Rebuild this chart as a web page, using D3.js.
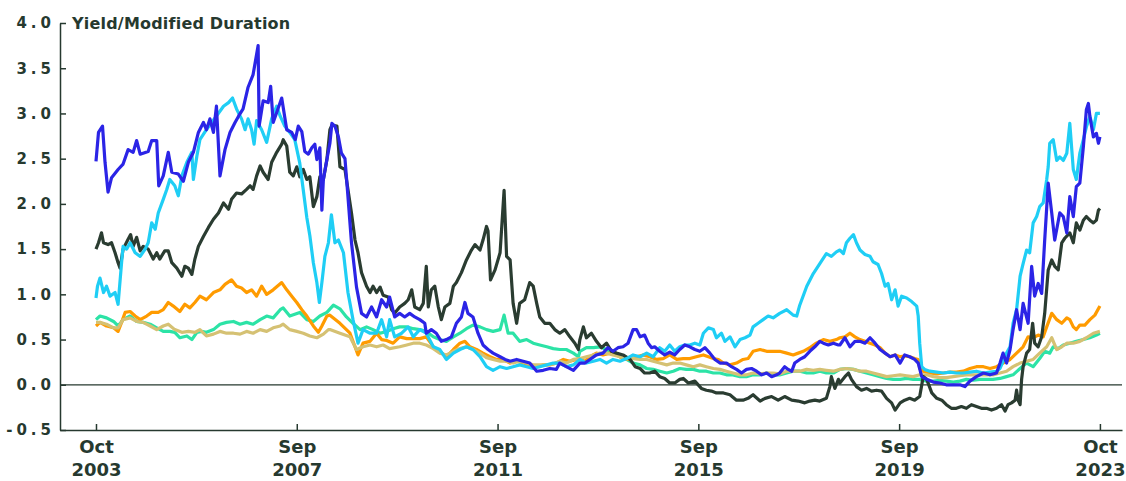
<!DOCTYPE html>
<html>
  <head>
    <meta charset="utf-8">
    <style>
      body { margin: 0; background: #fff; }
      svg text { font-family: "DejaVu Sans", sans-serif; font-weight: 700; fill: #26392f; }
    </style>
  </head>
  <body>
    <svg width="1126" height="481"></svg>
    <script src="https://d3js.org/d3.v7.min.js"></script>
    <script>
    // values, [decimal year, value]
    var blueSeries = [[2003.75,2.47],[2003.80,2.79],[2003.88,2.86],[2003.93,2.46],[2003.99,2.13],[2004.06,2.29],[2004.19,2.38],[2004.29,2.44],[2004.39,2.60],[2004.49,2.57],[2004.56,2.70],[2004.63,2.55],[2004.79,2.58],[2004.86,2.70],[2004.96,2.70],[2005.00,2.20],[2005.09,2.31],[2005.19,2.57],[2005.26,2.35],[2005.39,2.33],[2005.49,2.25],[2005.59,2.46],[2005.69,2.57],[2005.79,2.79],[2005.89,2.90],[2005.95,2.82],[2006.02,2.94],[2006.09,2.79],[2006.15,3.08],[2006.22,2.31],[2006.32,2.60],[2006.42,2.79],[2006.52,2.90],[2006.59,2.97],[2006.68,3.05],[2006.78,3.29],[2006.88,3.43],[2006.98,3.75],[2007.00,2.86],[2007.08,3.14],[2007.18,3.12],[2007.23,3.30],[2007.28,2.90],[2007.35,3.01],[2007.45,3.17],[2007.55,2.82],[2007.65,2.79],[2007.72,2.71],[2007.78,2.86],[2007.85,2.80],[2007.91,2.58],[2007.98,2.55],[2008.05,2.62],[2008.11,2.66],[2008.15,2.49],[2008.21,2.62],[2008.25,1.93],[2008.28,2.27],[2008.35,2.49],[2008.41,2.67],[2008.45,2.89],[2008.51,2.86],[2008.58,2.74],[2008.64,2.56],[2008.71,2.50],[2008.76,2.15],[2008.84,1.57],[2008.94,1.08],[2009.04,0.79],[2009.14,0.75],[2009.24,0.86],[2009.34,0.75],[2009.44,0.94],[2009.54,0.86],[2009.60,0.97],[2009.70,0.75],[2009.80,0.79],[2009.90,0.75],[2010.00,0.79],[2010.10,0.75],[2010.20,0.72],[2010.30,0.68],[2010.33,0.57],[2010.43,0.61],[2010.53,0.57],[2010.63,0.48],[2010.73,0.50],[2010.83,0.53],[2010.93,0.68],[2011.03,0.75],[2011.10,0.91],[2011.16,0.79],[2011.26,0.75],[2011.36,0.57],[2011.46,0.44],[2011.56,0.39],[2011.66,0.35],[2011.80,0.31],[2011.90,0.28],[2012.00,0.26],[2012.13,0.28],[2012.26,0.26],[2012.39,0.24],[2012.53,0.15],[2012.66,0.16],[2012.79,0.18],[2012.92,0.17],[2012.99,0.24],[2013.12,0.20],[2013.26,0.16],[2013.39,0.24],[2013.49,0.24],[2013.59,0.28],[2013.72,0.33],[2013.85,0.35],[2013.95,0.41],[2014.05,0.37],[2014.15,0.41],[2014.25,0.42],[2014.35,0.46],[2014.45,0.61],[2014.52,0.61],[2014.59,0.53],[2014.68,0.55],[2014.75,0.46],[2014.82,0.41],[2014.88,0.42],[2014.98,0.37],[2015.08,0.33],[2015.18,0.36],[2015.28,0.33],[2015.38,0.39],[2015.48,0.44],[2015.58,0.42],[2015.68,0.39],[2015.78,0.37],[2015.88,0.41],[2015.98,0.35],[2016.08,0.28],[2016.18,0.24],[2016.31,0.24],[2016.41,0.20],[2016.51,0.17],[2016.61,0.13],[2016.71,0.17],[2016.81,0.18],[2016.91,0.15],[2017.01,0.11],[2017.11,0.13],[2017.21,0.09],[2017.31,0.11],[2017.37,0.13],[2017.47,0.20],[2017.54,0.17],[2017.61,0.15],[2017.67,0.24],[2017.77,0.28],[2017.87,0.31],[2017.97,0.37],[2018.07,0.42],[2018.17,0.48],[2018.24,0.46],[2018.34,0.44],[2018.44,0.46],[2018.54,0.44],[2018.57,0.44],[2018.67,0.52],[2018.77,0.42],[2018.87,0.48],[2018.97,0.48],[2019.07,0.46],[2019.17,0.52],[2019.27,0.46],[2019.37,0.39],[2019.47,0.35],[2019.57,0.31],[2019.67,0.33],[2019.77,0.24],[2019.86,0.33],[2019.96,0.31],[2020.06,0.28],[2020.13,0.24],[2020.20,0.09],[2020.30,0.06],[2020.43,0.03],[2020.56,0.02],[2020.69,0.00],[2020.83,0.00],[2020.96,0.00],[2021.06,-0.02],[2021.16,0.04],[2021.29,0.09],[2021.43,0.13],[2021.56,0.11],[2021.69,0.13],[2021.76,0.24],[2021.82,0.35],[2021.89,0.24],[2021.96,0.39],[2022.02,0.61],[2022.09,0.83],[2022.16,0.61],[2022.22,0.90],[2022.32,0.68],[2022.39,1.31],[2022.45,0.98],[2022.52,1.12],[2022.59,1.01],[2022.65,1.60],[2022.72,2.23],[2022.79,1.90],[2022.85,1.60],[2022.95,1.90],[2023.02,1.86],[2023.09,1.68],[2023.15,2.08],[2023.22,1.86],[2023.28,2.19],[2023.35,2.23],[2023.42,2.63],[2023.48,3.04],[2023.52,3.11],[2023.55,2.97],[2023.62,2.74],[2023.68,2.78],[2023.72,2.67],[2023.75,2.74]];

    var cyanSeries = [[2003.75,0.96],[2003.78,1.09],[2003.83,1.18],[2003.90,1.02],[2003.96,1.09],[2004.03,0.98],[2004.13,1.02],[2004.19,0.89],[2004.26,1.35],[2004.29,1.53],[2004.36,1.50],[2004.43,1.57],[2004.53,1.46],[2004.63,1.42],[2004.73,1.50],[2004.79,1.57],[2004.86,1.79],[2004.93,1.72],[2004.99,1.90],[2005.09,2.05],[2005.16,2.16],[2005.22,2.27],[2005.32,2.20],[2005.39,2.09],[2005.46,2.31],[2005.56,2.46],[2005.66,2.57],[2005.69,2.27],[2005.76,2.53],[2005.82,2.71],[2005.95,2.82],[2006.05,2.90],[2006.15,2.97],[2006.29,3.08],[2006.39,3.12],[2006.47,3.17],[2006.55,3.05],[2006.65,2.94],[2006.72,2.82],[2006.78,2.94],[2006.85,2.82],[2006.90,2.66],[2006.95,2.92],[2007.05,2.82],[2007.15,2.68],[2007.25,2.94],[2007.35,3.08],[2007.42,2.97],[2007.51,2.86],[2007.61,2.79],[2007.71,2.71],[2007.81,2.45],[2007.88,2.15],[2007.95,1.85],[2008.01,1.65],[2008.08,1.35],[2008.15,1.13],[2008.20,0.91],[2008.25,1.13],[2008.31,1.42],[2008.38,1.57],[2008.44,1.88],[2008.51,1.57],[2008.58,1.60],[2008.68,1.46],[2008.77,1.02],[2008.87,0.72],[2008.97,0.46],[2009.07,0.61],[2009.21,0.57],[2009.34,0.57],[2009.44,0.72],[2009.54,0.53],[2009.60,0.72],[2009.70,0.53],[2009.84,0.57],[2009.97,0.64],[2010.07,0.53],[2010.20,0.61],[2010.33,0.57],[2010.47,0.42],[2010.60,0.39],[2010.73,0.28],[2010.87,0.35],[2011.00,0.39],[2011.13,0.42],[2011.26,0.39],[2011.40,0.31],[2011.53,0.20],[2011.66,0.16],[2011.80,0.20],[2011.93,0.18],[2012.06,0.20],[2012.19,0.22],[2012.33,0.20],[2012.46,0.18],[2012.59,0.20],[2012.73,0.22],[2012.86,0.24],[2012.99,0.24],[2013.12,0.20],[2013.26,0.22],[2013.39,0.28],[2013.52,0.24],[2013.66,0.26],[2013.79,0.28],[2013.92,0.24],[2014.05,0.28],[2014.19,0.26],[2014.32,0.29],[2014.45,0.33],[2014.59,0.31],[2014.72,0.35],[2014.85,0.31],[2014.98,0.41],[2015.08,0.37],[2015.18,0.44],[2015.28,0.37],[2015.38,0.42],[2015.48,0.44],[2015.58,0.44],[2015.68,0.46],[2015.78,0.44],[2015.85,0.57],[2015.95,0.63],[2016.05,0.61],[2016.11,0.52],[2016.21,0.57],[2016.28,0.48],[2016.38,0.53],[2016.48,0.42],[2016.58,0.50],[2016.68,0.52],[2016.78,0.55],[2016.84,0.64],[2016.94,0.68],[2017.04,0.72],[2017.14,0.76],[2017.24,0.74],[2017.37,0.79],[2017.51,0.83],[2017.64,0.77],[2017.71,0.76],[2017.77,0.88],[2017.91,1.09],[2018.04,1.23],[2018.17,1.34],[2018.30,1.45],[2018.40,1.42],[2018.50,1.47],[2018.57,1.49],[2018.64,1.45],[2018.70,1.57],[2018.77,1.62],[2018.84,1.66],[2018.90,1.57],[2018.97,1.49],[2019.07,1.44],[2019.17,1.42],[2019.23,1.36],[2019.33,1.33],[2019.40,1.23],[2019.47,1.09],[2019.53,1.12],[2019.60,0.94],[2019.67,1.05],[2019.73,0.87],[2019.80,0.98],[2019.90,0.96],[2020.00,0.92],[2020.10,0.87],[2020.13,0.76],[2020.16,0.46],[2020.20,0.20],[2020.26,0.17],[2020.36,0.15],[2020.50,0.14],[2020.63,0.13],[2020.76,0.14],[2020.89,0.13],[2021.03,0.13],[2021.16,0.14],[2021.29,0.15],[2021.43,0.13],[2021.56,0.14],[2021.69,0.15],[2021.76,0.18],[2021.82,0.26],[2021.89,0.35],[2021.96,0.42],[2022.02,0.68],[2022.09,0.83],[2022.16,1.20],[2022.22,1.34],[2022.29,1.49],[2022.35,1.46],[2022.42,1.79],[2022.49,1.86],[2022.55,1.97],[2022.62,2.01],[2022.69,2.27],[2022.72,2.41],[2022.75,2.67],[2022.82,2.71],[2022.89,2.48],[2022.95,2.52],[2023.02,2.48],[2023.09,2.56],[2023.15,2.89],[2023.22,2.38],[2023.28,2.27],[2023.35,2.56],[2023.42,2.71],[2023.48,2.85],[2023.55,2.97],[2023.62,2.82],[2023.68,3.00],[2023.75,3.00]];

    var darkSeries = [[2003.75,1.50],[2003.80,1.57],[2003.86,1.68],[2003.90,1.57],[2003.99,1.55],[2004.06,1.57],[2004.13,1.46],[2004.19,1.35],[2004.23,1.29],[2004.29,1.50],[2004.39,1.61],[2004.44,1.66],[2004.49,1.53],[2004.56,1.63],[2004.63,1.48],[2004.69,1.53],[2004.79,1.50],[2004.89,1.39],[2004.96,1.46],[2005.02,1.39],[2005.12,1.48],[2005.19,1.48],[2005.26,1.35],[2005.36,1.29],[2005.46,1.20],[2005.52,1.31],[2005.59,1.29],[2005.66,1.22],[2005.72,1.39],[2005.79,1.53],[2005.89,1.64],[2005.99,1.74],[2006.09,1.83],[2006.19,1.90],[2006.29,2.01],[2006.39,1.94],[2006.45,2.05],[2006.55,2.12],[2006.65,2.11],[2006.75,2.16],[2006.82,2.20],[2006.88,2.16],[2006.95,2.31],[2007.02,2.42],[2007.08,2.35],[2007.18,2.27],[2007.25,2.46],[2007.35,2.57],[2007.45,2.66],[2007.48,2.71],[2007.55,2.64],[2007.61,2.35],[2007.68,2.31],[2007.75,2.41],[2007.81,2.30],[2007.88,2.38],[2007.95,2.27],[2008.01,2.30],[2008.08,1.97],[2008.15,2.08],[2008.21,2.30],[2008.28,2.27],[2008.35,2.49],[2008.41,2.82],[2008.45,2.87],[2008.55,2.86],[2008.61,2.41],[2008.71,2.38],[2008.78,2.12],[2008.84,1.90],[2008.91,1.60],[2008.97,1.46],[2009.04,1.24],[2009.14,1.09],[2009.21,1.02],[2009.27,1.09],[2009.34,1.02],[2009.41,1.08],[2009.47,0.99],[2009.57,0.97],[2009.64,0.83],[2009.70,0.79],[2009.80,0.86],[2009.90,0.90],[2009.97,0.94],[2010.04,1.05],[2010.10,0.86],[2010.20,0.83],[2010.27,0.90],[2010.33,1.31],[2010.37,0.86],[2010.43,1.05],[2010.50,1.09],[2010.57,0.86],[2010.63,0.72],[2010.70,0.86],[2010.80,0.90],[2010.87,1.09],[2010.93,1.13],[2011.03,1.24],[2011.13,1.38],[2011.23,1.49],[2011.30,1.55],[2011.40,1.49],[2011.46,1.60],[2011.53,1.75],[2011.56,1.70],[2011.61,1.16],[2011.70,1.27],[2011.80,1.46],[2011.88,2.15],[2011.93,1.42],[2012.00,1.38],[2012.06,0.90],[2012.13,0.68],[2012.19,0.90],[2012.29,0.94],[2012.39,1.13],[2012.46,1.09],[2012.53,0.90],[2012.59,0.75],[2012.69,0.68],[2012.79,0.68],[2012.89,0.61],[2012.99,0.57],[2013.09,0.61],[2013.19,0.53],[2013.29,0.46],[2013.36,0.39],[2013.39,0.50],[2013.46,0.64],[2013.52,0.52],[2013.62,0.57],[2013.72,0.48],[2013.82,0.41],[2013.92,0.46],[2014.02,0.37],[2014.12,0.35],[2014.25,0.33],[2014.39,0.28],[2014.49,0.20],[2014.59,0.18],[2014.68,0.13],[2014.78,0.13],[2014.88,0.15],[2014.98,0.09],[2015.08,0.07],[2015.18,0.02],[2015.28,0.02],[2015.38,0.06],[2015.45,0.07],[2015.55,0.02],[2015.68,0.04],[2015.81,-0.04],[2015.91,-0.06],[2016.01,-0.07],[2016.11,-0.09],[2016.25,-0.09],[2016.38,-0.11],[2016.51,-0.17],[2016.64,-0.17],[2016.74,-0.15],[2016.84,-0.11],[2016.98,-0.18],[2017.08,-0.15],[2017.21,-0.13],[2017.34,-0.17],[2017.47,-0.13],[2017.61,-0.17],[2017.74,-0.18],[2017.87,-0.20],[2017.97,-0.18],[2018.07,-0.17],[2018.17,-0.18],[2018.30,-0.15],[2018.37,-0.02],[2018.40,0.09],[2018.47,-0.04],[2018.54,0.06],[2018.57,0.02],[2018.67,0.09],[2018.74,0.13],[2018.80,0.06],[2018.90,-0.02],[2019.00,-0.06],[2019.10,-0.04],[2019.20,-0.07],[2019.30,-0.06],[2019.40,-0.07],[2019.50,-0.15],[2019.60,-0.20],[2019.67,-0.28],[2019.77,-0.20],[2019.86,-0.17],[2019.96,-0.15],[2020.06,-0.17],[2020.16,-0.13],[2020.23,0.09],[2020.30,0.06],[2020.40,-0.09],[2020.50,-0.15],[2020.60,-0.17],[2020.69,-0.22],[2020.79,-0.26],[2020.89,-0.26],[2020.99,-0.24],[2021.09,-0.26],[2021.19,-0.22],[2021.29,-0.24],[2021.39,-0.26],[2021.49,-0.26],[2021.59,-0.28],[2021.69,-0.26],[2021.79,-0.22],[2021.86,-0.29],[2021.92,-0.22],[2021.99,-0.20],[2022.06,-0.17],[2022.09,-0.06],[2022.12,-0.17],[2022.16,-0.22],[2022.19,0.06],[2022.22,0.20],[2022.29,0.35],[2022.35,0.39],[2022.41,0.68],[2022.45,0.46],[2022.52,0.42],[2022.59,0.53],[2022.65,0.79],[2022.72,1.27],[2022.79,1.38],[2022.85,1.31],[2022.92,1.27],[2022.99,1.57],[2023.05,1.62],[2023.15,1.68],[2023.22,1.57],[2023.28,1.79],[2023.35,1.71],[2023.42,1.82],[2023.48,1.86],[2023.55,1.82],[2023.62,1.79],[2023.68,1.82],[2023.72,1.93],[2023.75,1.95]];

    var orangeSeries = [[2003.75,0.65],[2003.83,0.69],[2003.96,0.65],[2004.10,0.63],[2004.19,0.59],[2004.26,0.69],[2004.33,0.80],[2004.43,0.81],[2004.53,0.76],[2004.63,0.72],[2004.76,0.76],[2004.86,0.80],[2004.99,0.80],[2005.09,0.83],[2005.19,0.91],[2005.29,0.87],[2005.42,0.81],[2005.52,0.89],[2005.62,0.85],[2005.72,0.91],[2005.82,0.98],[2005.95,0.94],[2006.09,1.02],[2006.22,1.05],[2006.32,1.11],[2006.45,1.16],[2006.55,1.09],[2006.65,1.07],[2006.75,1.02],[2006.85,1.05],[2006.95,0.98],[2007.05,1.09],[2007.15,1.00],[2007.28,1.05],[2007.45,1.13],[2007.55,1.05],[2007.65,0.98],[2007.75,0.91],[2007.85,0.83],[2007.95,0.76],[2008.08,0.65],[2008.18,0.58],[2008.25,0.65],[2008.35,0.76],[2008.41,0.77],[2008.61,0.68],[2008.81,0.57],[2008.91,0.42],[2008.97,0.33],[2009.07,0.46],[2009.21,0.48],[2009.34,0.57],[2009.44,0.50],[2009.54,0.49],[2009.67,0.46],[2009.80,0.53],[2009.94,0.51],[2010.07,0.51],[2010.20,0.51],[2010.33,0.53],[2010.47,0.42],[2010.60,0.37],[2010.73,0.31],[2010.87,0.39],[2011.00,0.46],[2011.10,0.48],[2011.20,0.42],[2011.33,0.39],[2011.46,0.35],[2011.60,0.31],[2011.73,0.28],[2011.86,0.28],[2012.00,0.24],[2012.13,0.26],[2012.26,0.24],[2012.39,0.22],[2012.53,0.20],[2012.66,0.22],[2012.79,0.22],[2012.92,0.24],[2013.06,0.28],[2013.19,0.26],[2013.32,0.28],[2013.39,0.28],[2013.49,0.26],[2013.59,0.31],[2013.72,0.35],[2013.85,0.33],[2013.99,0.35],[2014.12,0.33],[2014.25,0.29],[2014.39,0.28],[2014.52,0.31],[2014.65,0.33],[2014.78,0.31],[2014.92,0.28],[2015.05,0.29],[2015.18,0.33],[2015.32,0.28],[2015.45,0.29],[2015.58,0.29],[2015.71,0.31],[2015.85,0.33],[2015.95,0.31],[2016.05,0.29],[2016.15,0.28],[2016.25,0.24],[2016.38,0.22],[2016.51,0.24],[2016.64,0.28],[2016.74,0.29],[2016.84,0.37],[2016.98,0.39],[2017.11,0.37],[2017.24,0.37],[2017.37,0.37],[2017.51,0.35],[2017.64,0.33],[2017.74,0.35],[2017.84,0.37],[2017.97,0.41],[2018.10,0.46],[2018.24,0.50],[2018.37,0.48],[2018.50,0.50],[2018.57,0.52],[2018.67,0.53],[2018.77,0.57],[2018.87,0.53],[2018.97,0.50],[2019.07,0.48],[2019.17,0.46],[2019.27,0.44],[2019.37,0.41],[2019.47,0.35],[2019.57,0.31],[2019.67,0.33],[2019.77,0.31],[2019.86,0.32],[2019.96,0.31],[2020.06,0.29],[2020.13,0.28],[2020.16,0.18],[2020.23,0.15],[2020.36,0.13],[2020.50,0.12],[2020.63,0.13],[2020.76,0.14],[2020.89,0.14],[2021.03,0.15],[2021.16,0.18],[2021.29,0.20],[2021.43,0.20],[2021.56,0.18],[2021.69,0.20],[2021.82,0.24],[2021.96,0.28],[2022.09,0.35],[2022.22,0.42],[2022.32,0.53],[2022.42,0.52],[2022.52,0.55],[2022.62,0.53],[2022.69,0.64],[2022.79,0.79],[2022.89,0.72],[2022.99,0.68],[2023.09,0.74],[2023.15,0.72],[2023.22,0.64],[2023.28,0.61],[2023.35,0.66],[2023.45,0.66],[2023.55,0.72],[2023.65,0.77],[2023.75,0.87]];

    var tanSeries = [[2003.75,0.69],[2003.83,0.69],[2003.96,0.67],[2004.10,0.63],[2004.19,0.63],[2004.29,0.72],[2004.43,0.74],[2004.56,0.70],[2004.69,0.69],[2004.83,0.65],[2004.96,0.61],[2005.09,0.65],[2005.19,0.67],[2005.32,0.61],[2005.46,0.58],[2005.59,0.59],[2005.72,0.58],[2005.82,0.61],[2005.95,0.54],[2006.09,0.56],[2006.22,0.59],[2006.35,0.57],[2006.49,0.57],[2006.62,0.56],[2006.75,0.59],[2006.88,0.57],[2007.02,0.61],[2007.15,0.59],[2007.28,0.63],[2007.42,0.65],[2007.48,0.67],[2007.61,0.61],[2007.75,0.59],[2007.88,0.57],[2008.01,0.54],[2008.15,0.52],[2008.28,0.56],[2008.38,0.61],[2008.41,0.61],[2008.61,0.57],[2008.81,0.53],[2008.94,0.39],[2009.07,0.42],[2009.21,0.44],[2009.34,0.42],[2009.47,0.44],[2009.60,0.40],[2009.80,0.42],[2009.94,0.44],[2010.07,0.46],[2010.20,0.46],[2010.33,0.44],[2010.47,0.40],[2010.60,0.35],[2010.73,0.33],[2010.87,0.37],[2011.00,0.40],[2011.13,0.42],[2011.26,0.39],[2011.40,0.35],[2011.53,0.30],[2011.66,0.28],[2011.80,0.26],[2011.93,0.26],[2012.06,0.24],[2012.19,0.26],[2012.33,0.24],[2012.46,0.22],[2012.59,0.22],[2012.73,0.22],[2012.86,0.23],[2012.99,0.26],[2013.12,0.24],[2013.26,0.28],[2013.39,0.29],[2013.52,0.31],[2013.66,0.33],[2013.79,0.35],[2013.92,0.35],[2014.05,0.33],[2014.19,0.31],[2014.32,0.29],[2014.45,0.29],[2014.59,0.28],[2014.72,0.28],[2014.85,0.26],[2014.98,0.24],[2015.12,0.22],[2015.25,0.24],[2015.38,0.24],[2015.51,0.22],[2015.65,0.20],[2015.78,0.22],[2015.91,0.20],[2016.05,0.18],[2016.18,0.17],[2016.31,0.15],[2016.44,0.13],[2016.58,0.11],[2016.71,0.11],[2016.84,0.13],[2016.98,0.12],[2017.11,0.13],[2017.24,0.13],[2017.37,0.12],[2017.51,0.15],[2017.64,0.15],[2017.77,0.15],[2017.91,0.17],[2018.04,0.16],[2018.17,0.17],[2018.30,0.16],[2018.44,0.15],[2018.57,0.17],[2018.70,0.18],[2018.84,0.17],[2018.97,0.15],[2019.10,0.15],[2019.23,0.13],[2019.37,0.11],[2019.50,0.09],[2019.63,0.10],[2019.77,0.11],[2019.90,0.10],[2020.03,0.09],[2020.16,0.11],[2020.30,0.11],[2020.43,0.09],[2020.56,0.08],[2020.69,0.08],[2020.83,0.09],[2020.96,0.10],[2021.09,0.11],[2021.23,0.11],[2021.36,0.11],[2021.49,0.11],[2021.62,0.11],[2021.76,0.13],[2021.89,0.15],[2022.02,0.20],[2022.16,0.24],[2022.29,0.26],[2022.42,0.28],[2022.55,0.35],[2022.69,0.42],[2022.79,0.52],[2022.89,0.39],[2022.99,0.42],[2023.09,0.46],[2023.22,0.46],[2023.35,0.48],[2023.48,0.52],[2023.62,0.57],[2023.75,0.59]];

    var mintSeries = [[2003.75,0.72],[2003.83,0.76],[2003.96,0.74],[2004.10,0.70],[2004.19,0.65],[2004.29,0.72],[2004.43,0.76],[2004.56,0.70],[2004.69,0.69],[2004.83,0.67],[2004.96,0.63],[2005.09,0.59],[2005.22,0.59],[2005.32,0.58],[2005.42,0.52],[2005.56,0.54],[2005.66,0.50],[2005.76,0.58],[2005.85,0.59],[2005.95,0.58],[2006.09,0.61],[2006.22,0.67],[2006.35,0.69],[2006.49,0.70],[2006.62,0.67],[2006.75,0.69],[2006.88,0.67],[2007.02,0.72],[2007.15,0.76],[2007.28,0.74],[2007.42,0.83],[2007.48,0.85],[2007.61,0.76],[2007.71,0.78],[2007.81,0.80],[2007.95,0.72],[2008.08,0.70],[2008.21,0.76],[2008.35,0.80],[2008.48,0.88],[2008.61,0.84],[2008.74,0.75],[2008.87,0.68],[2009.01,0.61],[2009.14,0.64],[2009.27,0.61],[2009.41,0.57],[2009.54,0.59],[2009.67,0.62],[2009.80,0.64],[2009.94,0.64],[2010.07,0.62],[2010.20,0.61],[2010.33,0.59],[2010.47,0.53],[2010.60,0.50],[2010.73,0.48],[2010.87,0.53],[2011.00,0.57],[2011.13,0.62],[2011.26,0.66],[2011.40,0.64],[2011.53,0.61],[2011.66,0.59],[2011.80,0.61],[2011.88,0.77],[2011.96,0.57],[2012.06,0.57],[2012.19,0.48],[2012.33,0.50],[2012.46,0.46],[2012.59,0.44],[2012.73,0.42],[2012.86,0.40],[2012.99,0.39],[2013.12,0.39],[2013.26,0.35],[2013.36,0.31],[2013.39,0.37],[2013.52,0.41],[2013.66,0.41],[2013.79,0.42],[2013.92,0.39],[2014.05,0.35],[2014.19,0.31],[2014.32,0.28],[2014.45,0.24],[2014.59,0.22],[2014.72,0.18],[2014.85,0.17],[2014.98,0.15],[2015.12,0.13],[2015.25,0.15],[2015.38,0.18],[2015.51,0.17],[2015.65,0.17],[2015.78,0.15],[2015.91,0.15],[2016.05,0.13],[2016.18,0.13],[2016.31,0.11],[2016.44,0.11],[2016.58,0.09],[2016.71,0.09],[2016.84,0.11],[2016.98,0.11],[2017.11,0.13],[2017.24,0.11],[2017.37,0.11],[2017.51,0.13],[2017.64,0.15],[2017.77,0.15],[2017.91,0.13],[2018.04,0.13],[2018.17,0.15],[2018.30,0.13],[2018.44,0.13],[2018.57,0.17],[2018.70,0.18],[2018.84,0.17],[2018.97,0.15],[2019.10,0.13],[2019.23,0.11],[2019.37,0.09],[2019.50,0.07],[2019.63,0.06],[2019.77,0.06],[2019.90,0.07],[2020.03,0.06],[2020.16,0.06],[2020.30,0.04],[2020.43,0.04],[2020.56,0.05],[2020.69,0.04],[2020.83,0.03],[2020.96,0.04],[2021.09,0.06],[2021.23,0.05],[2021.36,0.06],[2021.49,0.06],[2021.62,0.06],[2021.76,0.07],[2021.89,0.09],[2022.02,0.11],[2022.16,0.18],[2022.29,0.24],[2022.42,0.20],[2022.55,0.29],[2022.65,0.37],[2022.75,0.35],[2022.82,0.42],[2022.92,0.40],[2023.02,0.44],[2023.15,0.46],[2023.28,0.48],[2023.42,0.50],[2023.55,0.52],[2023.68,0.55],[2023.75,0.57]];

    var yTicks = [-0.5, 0, 0.5, 1, 1.5, 2, 2.5, 3, 3.5, 4];
    var xTicks = [2003.75, 2007.75, 2011.75, 2015.75, 2019.75, 2023.75];
    var xTickMonths = ["Oct", "Sep", "Sep", "Sep", "Sep", "Oct"];
    var xTickYears = ["2003", "2007", "2011", "2015", "2019", "2023"];

    // drawing order: first drawn ends up underneath
    var series = [
      {data: mintSeries, color: "#2ce3a6"},
      {data: orangeSeries, color: "#ff9b00"},
      {data: tanSeries, color: "#d5c173"},
      {data: darkSeries, color: "#2a3c31"},
      {data: cyanSeries, color: "#1fcef5"},
      {data: blueSeries, color: "#2b24e6"}
    ];

    var svg = d3.select("svg"),
        margin = {top: 23, right: 4, bottom: 51, left: 60},
        w = +svg.attr("width") - margin.left - margin.right,
        h = +svg.attr("height") - margin.top - margin.bottom;

    var x = d3.scaleLinear().domain([2003.033, 2024.19]).range([0, w]);
    var y = d3.scaleLinear().domain([-0.5, 4]).range([h, 0]);

    var g = svg.append("g")
        .attr("transform", "translate(" + margin.left + "," + margin.top + ")");

    // zero line
    g.append("line")
        .attr("x1", 0).attr("x2", w)
        .attr("y1", y(0)).attr("y2", y(0))
        .attr("stroke", "#26392f").attr("stroke-width", 1.2);

    var line = d3.line()
        .x(function(d) { return x(d[0]); })
        .y(function(d) { return y(d[1]); });

    g.selectAll(".series")
        .data(series)
      .enter().append("path")
        .attr("class", "series")
        .attr("fill", "none")
        .attr("stroke", function(d) { return d.color; })
        .attr("stroke-width", 3.2)
        .attr("stroke-linejoin", "round")
        .attr("d", function(d) { return line(d.data); });

    var yAxis = g.append("g")
        .call(d3.axisLeft(y).tickValues(yTicks).tickSize(-6).tickSizeOuter(0).tickPadding(5)
          .tickFormat(function(d) { return d.toFixed(1); }));
    yAxis.selectAll("text")
        .style("font-size", "15px")
        .style("letter-spacing", "4px");

    var xAxis = g.append("g")
        .attr("transform", "translate(0," + h + ")")
        .call(d3.axisBottom(x).tickValues(xTicks).tickSize(-6).tickSizeOuter(0).tickFormat(""));

    xAxis.selectAll(".tick").append("text")
        .attr("text-anchor", "middle")
        .style("font-size", "18px")
        .each(function(d, i) {
          var t = d3.select(this);
          t.append("tspan").attr("x", 0).attr("y", 23).text(xTickMonths[i]);
          t.append("tspan").attr("x", 0).attr("y", 46).text(xTickYears[i]);
        });

    svg.selectAll(".domain, .tick line")
        .attr("stroke", "#26392f")
        .attr("stroke-width", 1.5);

    svg.append("text")
        .attr("x", 72)
        .attr("y", 29)
        .style("font-size", "16px")
        .style("letter-spacing", "0.2px")
        .text("Yield/Modified Duration");
    </script>
  </body>
</html>
